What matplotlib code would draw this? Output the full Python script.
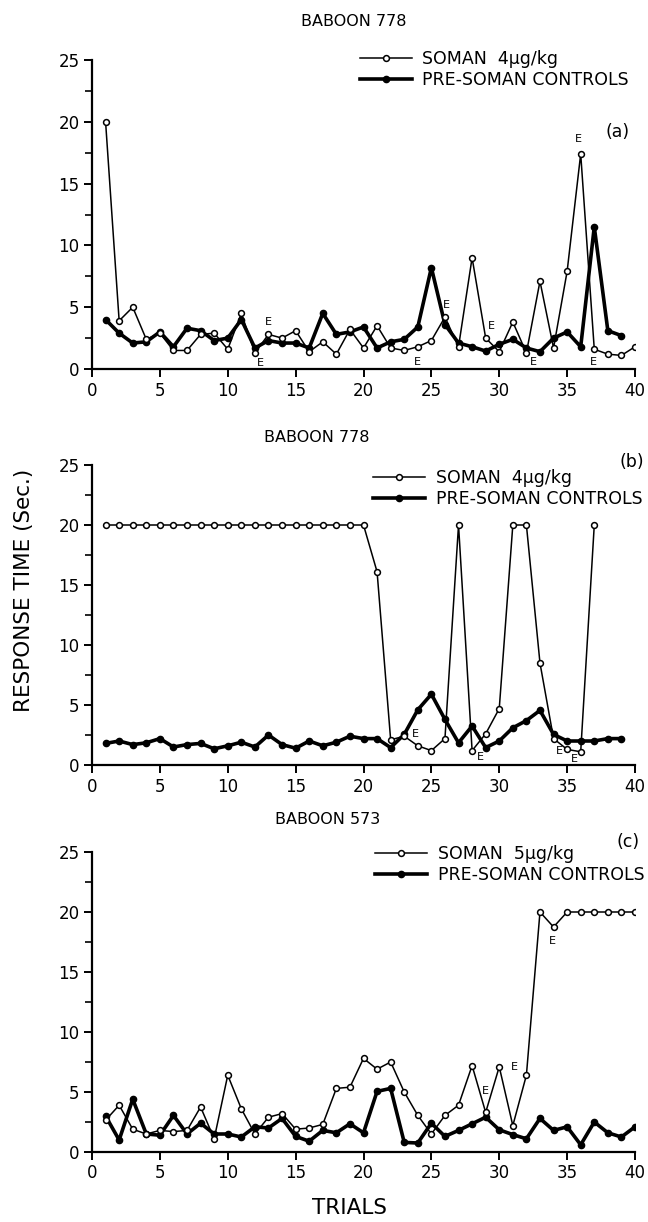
import matplotlib
matplotlib.use("Agg")
import matplotlib.pyplot as plt
import numpy as np

plt.rcParams['font.family'] = ['DejaVu Sans']

# ---------------- data ----------------
trials_a_soman = list(range(1, 41))
soman_a = [20.0, 3.9, 5.0, 2.4, 2.9, 1.5, 1.5, 2.8, 2.9, 1.6,
           4.5, 1.3, 2.8, 2.5, 3.1, 1.4, 2.2, 1.2, 3.2, 1.7,
           3.5, 1.7, 1.5, 1.8, 2.3, 4.2, 1.8, 9.0, 2.5, 1.4,
           3.8, 1.3, 7.1, 1.7, 7.9, 17.4, 1.6, 1.2, 1.1, 1.8]
trials_a_ctrl = list(range(1, 40))
ctrl_a = [4.0, 2.9, 2.1, 2.2, 3.0, 1.8, 3.3, 3.1, 2.3, 2.5,
          4.0, 1.7, 2.3, 2.1, 2.1, 1.7, 4.5, 2.8, 3.0, 3.4,
          1.7, 2.2, 2.4, 3.4, 8.2, 3.6, 2.1, 1.8, 1.45, 2.0,
          2.4, 1.7, 1.4, 2.5, 3.0, 1.8, 11.5, 3.1, 2.7]

trials_b_soman = list(range(1, 38))
soman_b = [20.0] * 20 + [16.1, 2.1, 2.4, 1.6, 1.2, 2.2, 20.0, 1.2, 2.6, 4.7,
                         20.0, 20.0, 8.5, 2.2, 1.3, 1.1, 20.0]
trials_b_ctrl = list(range(1, 40))
ctrl_b = [1.8, 2.0, 1.7, 1.85, 2.2, 1.5, 1.7, 1.8, 1.35, 1.6,
          1.9, 1.5, 2.5, 1.7, 1.4, 2.0, 1.6, 1.9, 2.4, 2.2,
          2.2, 1.45, 2.55, 4.6, 5.9, 3.8, 1.85, 3.25, 1.45, 2.0,
          3.1, 3.7, 4.55, 2.55, 2.0, 2.0, 2.0, 2.2, 2.2]

trials_c_soman = list(range(1, 41))
soman_c = [2.65, 3.9, 1.9, 1.5, 1.8, 1.7, 1.8, 3.75, 1.1, 6.4,
           3.6, 1.5, 2.9, 3.2, 1.9, 2.0, 2.3, 5.3, 5.4, 7.8,
           6.9, 7.5, 5.0, 3.05, 1.5, 3.05, 3.9, 7.2, 3.3, 7.1,
           2.2, 6.4, 20.0, 18.75, 20.0, 20.0, 20.0, 20.0, 20.0, 20.0]
trials_c_ctrl = list(range(1, 41))
ctrl_c = [3.0, 1.0, 4.4, 1.5, 1.4, 3.05, 1.5, 2.4, 1.5, 1.5,
          1.25, 2.1, 2.0, 2.8, 1.3, 0.9, 1.8, 1.6, 2.35, 1.6,
          5.05, 5.3, 0.8, 0.75, 2.4, 1.3, 1.8, 2.35, 2.9, 1.85,
          1.45, 1.1, 2.8, 1.8, 2.1, 0.6, 2.5, 1.6, 1.25, 2.1]

# "E" annotations (trial, value)
e_marks_a = [(12.4, 0.5), (13.0, 3.8), (24.0, 0.6), (26.1, 5.2), (29.4, 3.5),
             (32.5, 0.6), (35.8, 18.6), (36.9, 0.6)]
e_marks_b = [(23.8, 2.6), (28.6, 0.7), (34.4, 1.2), (35.5, 0.5)]
e_marks_c = [(29.0, 5.1), (31.1, 7.1), (33.9, 17.6)]

titles = ["BABOON 778", "BABOON 778", "BABOON 573"]
soman_labels = ["SOMAN  4μg/kg", "SOMAN  4μg/kg", "SOMAN  5μg/kg"]
ctrl_label = "PRE-SOMAN CONTROLS"
panel_tags = ["(a)", "(b)", "(c)"]
x_ticks = [0, 5, 10, 15, 20, 25, 30, 35, 40]
y_ticks = [0, 5, 10, 15, 20, 25]

# ---------------- figure ----------------
W, H = 648, 1222
fig = plt.figure(figsize=(W / 100, H / 100), dpi=100)

def fx(px):
    return px / W

def fy(py):
    return 1 - py / H

# axes pixel boxes: (left, top, right, bottom)
boxes = [(92, 60, 635, 369), (92, 465, 635, 765), (92, 852, 635, 1152)]
title_pos = [(354, 22), (317, 437), (328, 820)]
legend_pos = [(360, 50), (373, 469), (375, 845)]
tag_pos = [(618, 132), (632, 462), (628, 842)]

series = [
    (trials_a_soman, soman_a, trials_a_ctrl, ctrl_a, e_marks_a),
    (trials_b_soman, soman_b, trials_b_ctrl, ctrl_b, e_marks_b),
    (trials_c_soman, soman_c, trials_c_ctrl, ctrl_c, e_marks_c),
]

for i, (box, (xs, ys, xc, yc, emarks)) in enumerate(zip(boxes, series)):
    l, t, r, b = box
    ax = fig.add_axes([fx(l), fy(b), fx(r) - fx(l), fy(t) - fy(b)])
    ax.plot(xc, yc, color='black', lw=2.6, marker='o', ms=4.5,
            mfc='black', mec='black', zorder=3, label=ctrl_label,
            solid_joinstyle='round')
    ax.plot(xs, ys, color='black', lw=1.1, marker='o', ms=4.2,
            mfc='white', mec='black', mew=1.1, zorder=4, label=soman_labels[i])
    for (ex, ey) in emarks:
        ax.text(ex, ey, "E", fontsize=8, ha='center', va='center', zorder=5)

    ax.set_xlim(0, 40)
    ax.set_ylim(0, 25)
    ax.set_xticks(x_ticks)
    ax.set_yticks(y_ticks)
    ax.set_yticks(np.arange(2.5, 25, 5), minor=True)
    for s in ['top', 'right']:
        ax.spines[s].set_visible(False)
    for s in ['left', 'bottom']:
        ax.spines[s].set_linewidth(1.6)
    ax.tick_params(axis='both', which='major', direction='out', length=6,
                   width=1.4, labelsize=12, pad=3)
    ax.tick_params(axis='y', which='minor', direction='out', length=5, width=1.2)
    ax.patch.set_alpha(0)
    for sp in ax.spines.values():
        sp.set_clip_on(False)

    handles, labels = ax.get_legend_handles_labels()
    leg = ax.legend(handles[::-1], labels[::-1], loc='upper left',
                    bbox_to_anchor=(fx(legend_pos[i][0]), fy(legend_pos[i][1])),
                    bbox_transform=fig.transFigure, frameon=False,
                    fontsize=12.5, handlelength=3.0, handletextpad=0.6,
                    labelspacing=0.15, borderpad=0, borderaxespad=0,
                    markerscale=1.0)

    fig.text(fx(title_pos[i][0]), fy(title_pos[i][1]), titles[i],
             fontsize=11.5, ha='center', va='center')
    fig.text(fx(tag_pos[i][0]), fy(tag_pos[i][1]), panel_tags[i],
             fontsize=12.5, ha='center', va='center')

fig.text(fx(24), fy(590), "RESPONSE TIME (Sec.)", rotation=90,
         fontsize=15.5, ha='center', va='center')
fig.text(fx(350), fy(1208), "TRIALS", fontsize=15.5, ha='center', va='center')

fig.savefig("out.png", dpi=100)
